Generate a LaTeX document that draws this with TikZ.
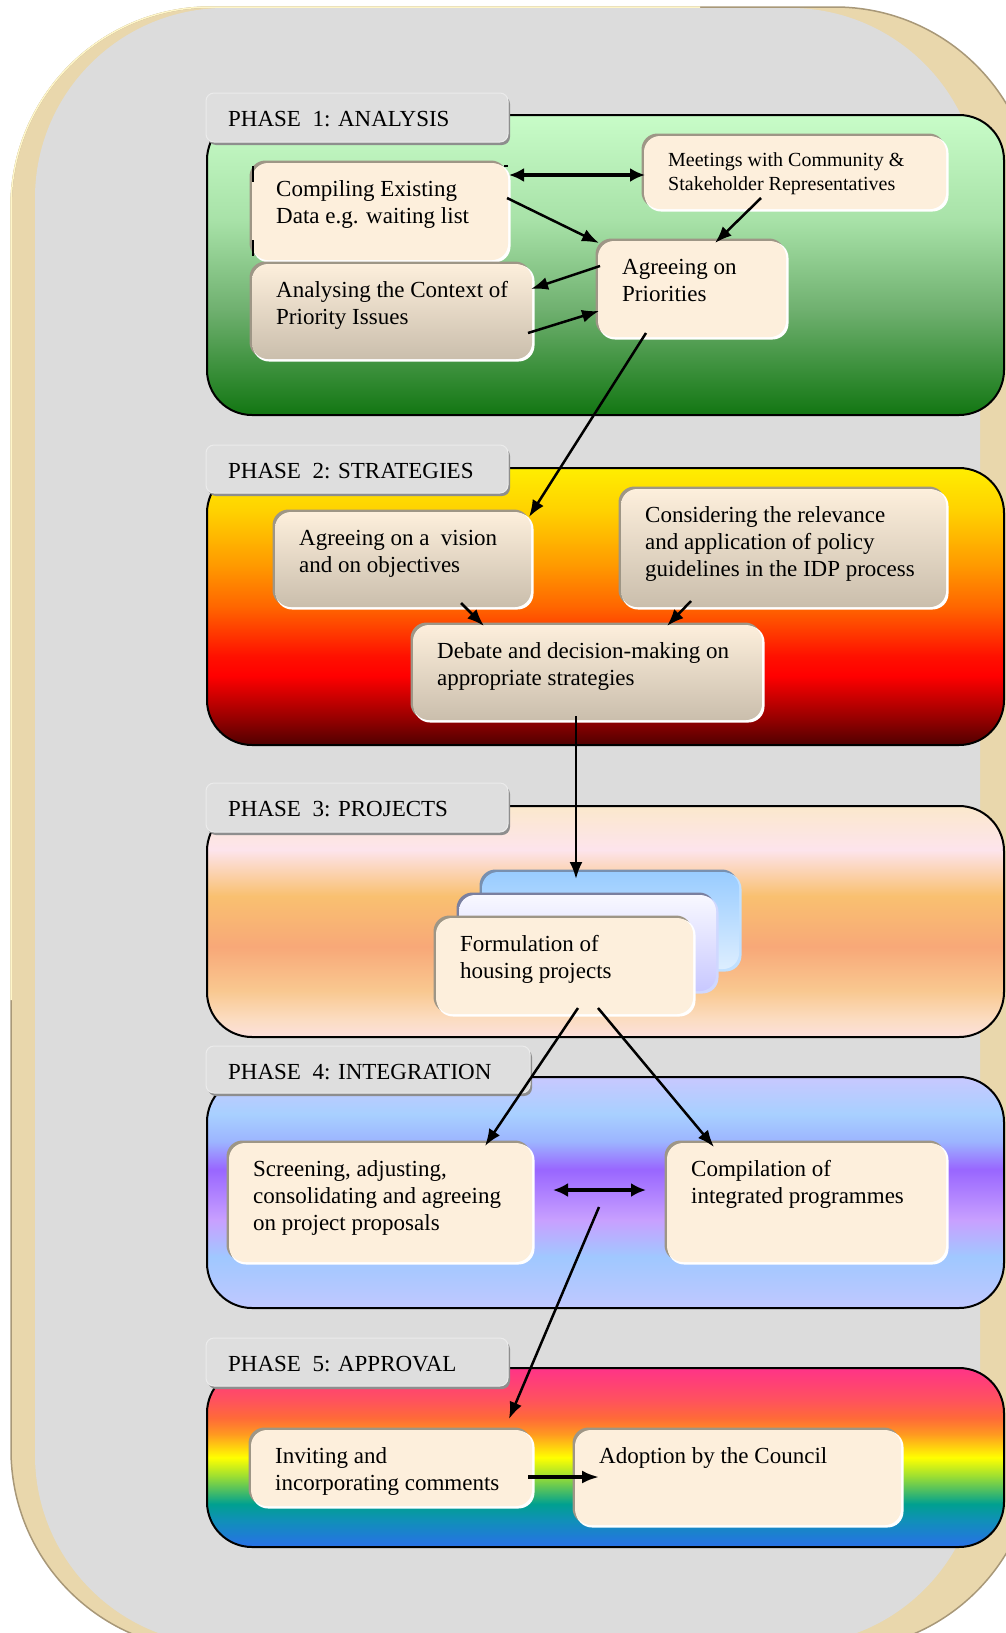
\documentclass[tikz,border=0pt]{standalone}
\usepackage{fontspec}
\setmainfont{Liberation Serif}
\usetikzlibrary{arrows.meta}

\definecolor{beige}{HTML}{E9D7AC}
\definecolor{beigehi}{HTML}{FFF6C8}
\definecolor{beigelo}{HTML}{A89878}
\definecolor{greybg}{HTML}{DCDCDC}
\definecolor{tabfill}{HTML}{DEDEDE}
\definecolor{tabshadow}{HTML}{8E8E8E}
\definecolor{cream}{HTML}{FDEFDC}
\definecolor{tan}{HTML}{CABEAC}
\definecolor{bevdark}{HTML}{9E9686}
% phase 1
\definecolor{ga}{HTML}{C8FCC8}\definecolor{gb}{HTML}{A8E2A8}
\definecolor{gc}{HTML}{6FB06F}\definecolor{gd}{HTML}{127612}
% phase 2
\definecolor{ra}{HTML}{FFEE00}\definecolor{rb}{HTML}{FFD000}
\definecolor{rc}{HTML}{FF9A00}\definecolor{rd}{HTML}{FF6600}
\definecolor{re}{HTML}{FF1000}\definecolor{rf}{HTML}{FF0000}
\definecolor{rg}{HTML}{990000}\definecolor{rh}{HTML}{500000}
% phase 3
\definecolor{oa}{HTML}{FBE8CC}\definecolor{ob}{HTML}{FDE4EC}
\definecolor{oc}{HTML}{FBD0A8}\definecolor{od}{HTML}{F9C070}
\definecolor{oe}{HTML}{F8A878}\definecolor{of}{HTML}{F9C890}
\definecolor{og}{HTML}{FBDCC0}\definecolor{oh}{HTML}{FCE0DC}
% phase 4
\definecolor{va}{HTML}{C8C8FF}\definecolor{vb}{HTML}{A8D0FF}
\definecolor{vc}{HTML}{9CB4FF}\definecolor{vd}{HTML}{9966FF}
\definecolor{ve}{HTML}{C8A0FF}\definecolor{vf}{HTML}{A0C8FF}
\definecolor{vg}{HTML}{C0C8FF}
% phase 5
\definecolor{ya}{HTML}{FF3388}\definecolor{yb}{HTML}{FF5060}
\definecolor{yc}{HTML}{FF6A38}\definecolor{yd}{HTML}{FF9A20}
\definecolor{ye}{HTML}{FFFF00}\definecolor{yf}{HTML}{A0E030}
\definecolor{yg}{HTML}{50C060}\definecolor{yh}{HTML}{00A090}
\definecolor{yi}{HTML}{1090B8}\definecolor{yj}{HTML}{2870E8}
% stack
\definecolor{sba}{HTML}{99CCFF}\definecolor{sbb}{HTML}{DDEEFF}
\definecolor{sbd}{HTML}{7890B0}\definecolor{sbl}{HTML}{C0E0FF}
\definecolor{swa}{HTML}{F8F8FF}\definecolor{swb}{HTML}{C8C8FF}
\definecolor{swd}{HTML}{7A80A0}\definecolor{swl}{HTML}{D0D8FF}

\pgfdeclareverticalshading{shA}{100bp}{color(0bp)=(gd); color(25bp)=(gd); color(42.5bp)=(gc); color(57.5bp)=(gb); color(75bp)=(ga); color(100bp)=(ga)}
\pgfdeclareverticalshading{shB}{100bp}{color(0bp)=(rh); color(25bp)=(rh); color(30bp)=(rg); color(37.5bp)=(rf); color(41bp)=(re); color(50bp)=(rd); color(57.5bp)=(rc); color(67bp)=(rb); color(75bp)=(ra); color(100bp)=(ra)}
\pgfdeclareverticalshading{shC}{100bp}{color(0bp)=(oh); color(25bp)=(oh); color(29bp)=(og); color(35bp)=(of); color(44.5bp)=(oe); color(55.5bp)=(od); color(60bp)=(oc); color(65.5bp)=(ob); color(75bp)=(oa); color(100bp)=(oa)}
\pgfdeclareverticalshading{shD}{100bp}{color(0bp)=(vg); color(25bp)=(vg); color(36bp)=(vf); color(44bp)=(ve); color(55bp)=(vd); color(61bp)=(vc); color(67bp)=(vb); color(75bp)=(va); color(100bp)=(va)}
\pgfdeclareverticalshading{shE}{100bp}{color(0bp)=(yj); color(25bp)=(yj); color(32.5bp)=(yi); color(37bp)=(yh); color(41bp)=(yg); color(45bp)=(yf); color(50bp)=(ye); color(56.5bp)=(yd); color(61bp)=(yc); color(66.5bp)=(yb); color(75bp)=(ya); color(100bp)=(ya)}

\newcommand\bfnt{\fontsize{23}{27}\selectfont}
\newcommand\sfnt{\fontsize{20}{23.5}\selectfont}

\tikzset{
  phase/.style={draw=black, line width=2, rounded corners=45, shade, inner sep=0},
  tabst/.style={fill=tabfill, draw=white!92!black, line width=1, rounded corners=8, inner sep=0},
  creambox/.style={fill=cream},
  gradbox/.style={top color=cream, bottom color=tan},
  arr/.style={-{Latex[length=17pt,width=13pt]}, line width=2.5},
  dbl/.style={{Latex[length=15pt,width=14pt]}-{Latex[length=15pt,width=14pt]}, line width=3.8},
}

\newcommand\phasebox[6]{%
  \node[phase, shading=#6, minimum width={#4-#2}, minimum height={#5-#3}] (#1) at ({(#2+#4)/2},{(#3+#5)/2}) {};}
\newcommand\phasetab[6]{%
  \fill[tabshadow, rounded corners=8] (#2+2,#3+3) rectangle (#4+2,#5+3);
  \node[tabst, minimum width={#4-#2}, minimum height={#5-#3}] (#1) at ({(#2+#4)/2},{(#3+#5)/2}) {};
  \node[anchor=base west, inner sep=0, font=\bfnt] (#1t) at (#2+22,#3+33) {#6};}
\newcommand\bevel[6]{%
  \fill[#5, rounded corners=16] (#1-2.5,#2-2.5) rectangle (#3-1,#4-1);
  \fill[#6, rounded corners=16] (#1+1,#2+1) rectangle (#3+2.5,#4+2.5);}
\newcommand\ibox[8]{%
  \bevel{#2}{#3}{#4}{#5}{bevdark}{white}
  \node[#6, rounded corners=16, inner sep=0, minimum width={#4-#2}, minimum height={#5-#3}] (#1) at ({(#2+#4)/2},{(#3+#5)/2}) {};
  \node[anchor=north west, align=left, inner sep=0, font=#7] (#1t) at (#2+24,#3+14) {\strut #8};}

\begin{document}
\begin{tikzpicture}[x=1pt,y=-1pt]
\useasboundingbox (0,0) rectangle (1006,1633);
\clip (0,0) rectangle (1006,1633);
% frame
\fill[beige, draw=beigelo, line width=1.5, rounded corners=200] (11,7) rectangle (1035,1650);
\draw[beigehi, line width=1.5, rounded corners=200] (11,1000) -- (11,7) -- (700,7);
\fill[greybg, rounded corners=190] (35,8) rectangle (980,1645);

% ---------- phase 1
\phasebox{p1}{207}{115}{1004}{415}{shA}
\phasetab{t1}{206}{93}{508}{142}{PHASE\ \ 1: ANALYSIS}
\ibox{cmp}{252}{163}{508}{260}{creambox}{\bfnt}{Compiling Existing\\Data e.g. waiting list}
\draw[black, line width=1.5] (253,166) -- (253,182) (253,240) -- (253,256) (504,166) -- (508,166);
\ibox{ana}{252}{264}{532}{359}{gradbox}{\bfnt}{Analysing the Context of\\Priority Issues}
\ibox{mtg}{644}{136}{946}{209}{creambox}{\sfnt}{Meetings with Community \&\\Stakeholder Representatives}
\ibox{pri}{598}{241}{786}{337}{creambox}{\bfnt}{Agreeing on\\Priorities}

% ---------- phase 2
\phasebox{p2}{207}{468}{1004}{745}{shB}
\phasetab{t2}{206}{445}{508}{493}{PHASE\ \ 2: STRATEGIES}
\ibox{vis}{275}{512}{531}{607}{gradbox}{\bfnt}{Agreeing on a\ \ vision\\and on objectives}
\ibox{con}{621}{489}{946}{607}{gradbox}{\bfnt}{Considering the relevance\\and application of policy\\guidelines in the IDP process}
\ibox{deb}{413}{625}{762}{720}{gradbox}{\bfnt}{Debate and decision-making on\\appropriate strategies}

% ---------- phase 3
\phasebox{p3}{207}{806}{1004}{1037}{shC}
\phasetab{t3}{206}{783}{508}{832}{PHASE\ \ 3: PROJECTS}
\bevel{482}{872}{739}{969}{sbd}{sbl}
\node[top color=sba, bottom color=sbb, rounded corners=16, inner sep=0, minimum width=257, minimum height=97] (stk1) at (610.5,920.5) {};
\bevel{459}{895}{716}{991}{swd}{swl}
\node[top color=swa, bottom color=swb, rounded corners=16, inner sep=0, minimum width=257, minimum height=96] (stk2) at (587.5,943) {};
\ibox{frm}{436}{918}{693}{1014}{creambox}{\bfnt}{Formulation of\\housing projects}

% ---------- phase 4
\phasebox{p4}{207}{1077}{1004}{1308}{shD}
\phasetab{t4}{206}{1046}{530}{1093}{PHASE\ \ 4: INTEGRATION}
\ibox{scr}{229}{1143}{532}{1262}{creambox}{\bfnt}{Screening, adjusting,\\consolidating and agreeing\\on project proposals}
\ibox{cpl}{667}{1143}{946}{1262}{creambox}{\bfnt}{Compilation of\\integrated programmes}

% ---------- phase 5
\phasebox{p5}{207}{1368}{1004}{1547}{shE}
\phasetab{t5}{206}{1338}{508}{1386}{PHASE\ \ 5: APPROVAL}
\ibox{inv}{251}{1430}{532}{1506}{creambox}{\bfnt}{Inviting and\\incorporating comments}
\ibox{adp}{575}{1430}{901}{1525}{creambox}{\bfnt}{Adoption by the Council}

% ---------- connector end points
\coordinate (c1a) at (509,175);  \coordinate (c1b) at (645,175);
\coordinate (c2a) at (507,198);  \coordinate (c2b) at (599,243);
\coordinate (c3a) at (761,198);  \coordinate (c3b) at (715,243);
\coordinate (c4a) at (600,266);  \coordinate (c4b) at (531,289);
\coordinate (c5a) at (528,333);  \coordinate (c5b) at (599,311);
\coordinate (c6a) at (646,333);  \coordinate (c6b) at (529,517);
\coordinate (c7a) at (461,603);  \coordinate (c7b) at (484,626);
\coordinate (c8a) at (691,601);  \coordinate (c8b) at (667,626);
\coordinate (c9a) at (576,716);  \coordinate (c9b) at (576,879);
\coordinate (c10a) at (578,1008); \coordinate (c10b) at (485,1146);
\coordinate (c11a) at (598,1008); \coordinate (c11b) at (714,1147);
\coordinate (c12a) at (553,1190); \coordinate (c12b) at (646,1190);
\coordinate (c13a) at (599,1207); \coordinate (c13b) at (509,1419);
\coordinate (c14a) at (528,1477); \coordinate (c14b) at (599,1477);

\draw[dbl] (c1a) -- (c1b);
\draw[arr] (c2a) -- (c2b);
\draw[arr] (c3a) -- (c3b);
\draw[arr] (c4a) -- (c4b);
\draw[arr] (c5a) -- (c5b);
\draw[arr] (c6a) -- (c6b);
\draw[arr] (c7a) -- (c7b);
\draw[arr] (c8a) -- (c8b);
\draw[arr] (c9a) -- (c9b);
\draw[arr] (c10a) -- (c10b);
\draw[arr] (c11a) -- (c11b);
\draw[dbl] (c12a) -- (c12b);
\draw[arr] (c13a) -- (c13b);
\draw[arr, line width=3.2] (c14a) -- (c14b);
\end{tikzpicture}
\end{document}
